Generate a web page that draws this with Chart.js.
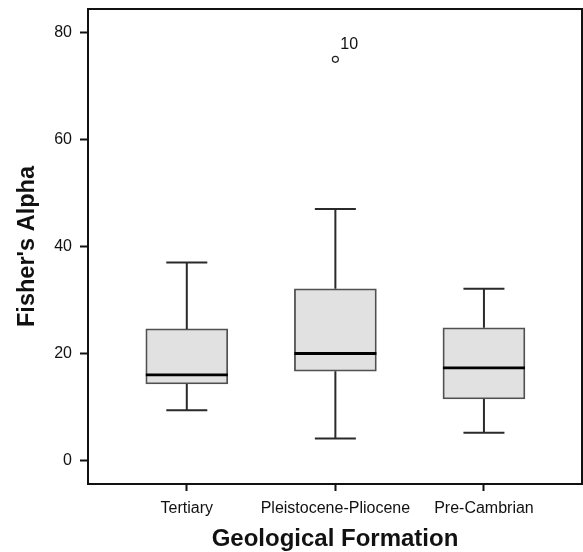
<!DOCTYPE html>
<html>
<head>
<meta charset="utf-8">
<script src="https://cdn.jsdelivr.net/npm/chart.js@4/dist/chart.umd.min.js"></script>
<style>
  html, body { margin: 0; padding: 0; background: #fff; }
  #wrap { width: 583px; height: 552px; position: relative; }
</style>
</head>
<body>
<div id="wrap"><canvas id="c" width="583" height="552"></canvas></div>
<script>
// ---- data ----
const categories = ["Tertiary", "Pleistocene-Pliocene", "Pre-Cambrian"];
const whiskerLow  = [9.4, 4.1, 5.2];
const q1          = [14.3, 16.7, 11.5];
const median      = [16.0, 20.0, 17.3];
const q3          = [24.6, 32.1, 24.8];
const whiskerHigh = [37.0, 47.0, 32.1];
const outlierCategory = [1];
const outlierValue    = [75.0];
const outlierLabel    = ["10"];
const yTicks = [0, 20, 40, 60, 80];

const FONT = "'Liberation Sans', Arial, Helvetica, sans-serif";
const INK = "#111111";

const boxData = categories.map((c, i) => ({ x: i, y: [q1[i], q3[i]] }));
const outlierData = outlierCategory.map((c, i) => ({ x: c, y: outlierValue[i] }));

const boxPlugin = {
  id: 'boxExtras',
  afterDatasetsDraw(chart) {
    const ctx = chart.ctx;
    const xs = chart.scales.x, ys = chart.scales.y;
    const meta = chart.getDatasetMeta(0);
    ctx.save();
    categories.forEach((c, i) => {
      const bar = meta.data[i];
      const half = bar.width / 2;
      const cx = xs.getPixelForValue(i);
      // whiskers
      ctx.strokeStyle = "#2a2a2a";
      ctx.lineWidth = 2;
      ctx.beginPath();
      ctx.moveTo(cx, ys.getPixelForValue(q3[i]));
      ctx.lineTo(cx, ys.getPixelForValue(whiskerHigh[i]));
      ctx.moveTo(cx, ys.getPixelForValue(q1[i]));
      ctx.lineTo(cx, ys.getPixelForValue(whiskerLow[i]));
      const capHalf = half / 2;
      ctx.moveTo(cx - capHalf, ys.getPixelForValue(whiskerHigh[i]));
      ctx.lineTo(cx + capHalf, ys.getPixelForValue(whiskerHigh[i]));
      ctx.moveTo(cx - capHalf, ys.getPixelForValue(whiskerLow[i]));
      ctx.lineTo(cx + capHalf, ys.getPixelForValue(whiskerLow[i]));
      ctx.stroke();
      // median
      ctx.strokeStyle = "#000";
      ctx.lineWidth = 2.8;
      ctx.beginPath();
      ctx.moveTo(cx - half, ys.getPixelForValue(median[i]));
      ctx.lineTo(cx + half, ys.getPixelForValue(median[i]));
      ctx.stroke();
    });
    // outlier labels
    const om = chart.getDatasetMeta(1);
    ctx.fillStyle = INK;
    ctx.font = "16px " + FONT;
    ctx.textAlign = "left";
    ctx.textBaseline = "alphabetic";
    om.data.forEach((pt, i) => {
      ctx.fillText(outlierLabel[i], pt.x + 5, pt.y - 10);
    });
    ctx.restore();
  },
  afterDraw(chart) {
    const a = chart.chartArea, ctx = chart.ctx;
    ctx.save();
    ctx.strokeStyle = "#111";
    ctx.lineWidth = 2;
    ctx.strokeRect(a.left, a.top, a.right - a.left, a.bottom - a.top);
    ctx.restore();
  }
};

new Chart(document.getElementById('c'), {
  type: 'bar',
  data: {
    datasets: [
      {
        type: 'bar',
        data: boxData,
        backgroundColor: "#e1e1e1",
        borderColor: "#505050",
        borderWidth: 1.8,
        borderSkipped: false,
        barThickness: 82,
        order: 2
      },
      {
        type: 'scatter',
        data: outlierData,
        pointStyle: 'circle',
        radius: 3,
        backgroundColor: "#fff",
        borderColor: "#222",
        borderWidth: 1.2,
        order: 1
      }
    ]
  },
  options: {
    responsive: false,
    animation: false,
    events: [],
    layout: { autoPadding: false, padding: { top: 9, right: 1, left: 0, bottom: 0 } },
    plugins: { legend: { display: false }, tooltip: { enabled: false } },
    scales: {
      x: {
        type: 'linear',
        offset: false,
        min: -0.665,
        max: 2.66,
        afterBuildTicks(s) { s.ticks = categories.map((c, i) => ({ value: i })); },
        afterFit(s) { s.height = 68; s.paddingLeft = 0; s.paddingRight = 0; },
        grid: { display: true, offset: false, drawOnChartArea: false, drawTicks: true, tickLength: 7, tickColor: "#111", tickWidth: 2 },
        border: { display: false },
        ticks: {
          autoSkip: false, maxRotation: 0, padding: 8,
          color: INK, font: { family: FONT, size: 16 },
          callback: (v) => categories[v]
        },
        title: {
          display: true, text: "Geological Formation", color: INK,
          font: { family: FONT, size: 24, weight: 'bold' },
          padding: { top: 0, bottom: -2 }
        }
      },
      y: {
        type: 'linear',
        min: -4.4,
        max: 84.4,
        afterBuildTicks(s) { s.ticks = yTicks.map(v => ({ value: v })); },
        afterFit(s) { s.width = 88; s.paddingTop = 0; s.paddingBottom = 0; },
        grid: { display: true, drawOnChartArea: false, drawTicks: true, tickLength: 8, tickColor: "#111", tickWidth: 2 },
        border: { display: false },
        ticks: {
          padding: 8, color: INK, font: { family: FONT, size: 16 }
        },
        title: {
          display: true, text: "Fisher's Alpha", color: INK,
          font: { family: FONT, size: 23.5, weight: 'bold' },
          padding: { top: 13, bottom: 0 }
        }
      }
    }
  },
  plugins: [boxPlugin]
});
</script>
</body>
</html>
